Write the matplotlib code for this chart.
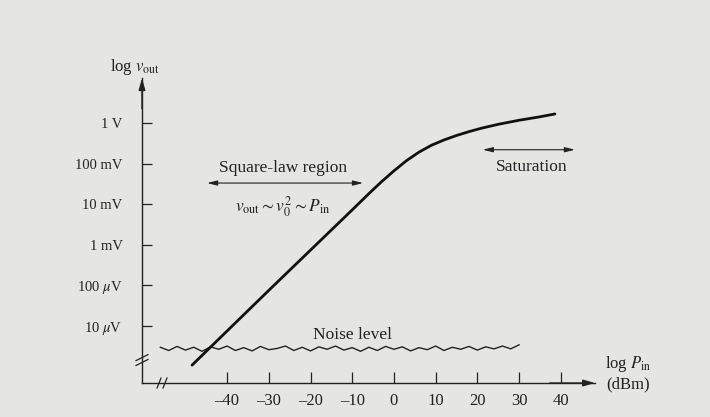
import matplotlib
matplotlib.use("Agg")
import matplotlib.pyplot as plt

# detector response: input power (dBm) vs log10 of output voltage (V)
response_dbm = [-48.4, -40, -30, -20, -10, -6, -3, 0, 3, 6, 9, 12, 15, 18, 21, 25, 30, 35, 38.6]
response_logv = [-5.96, -5.12, -4.12, -3.13, -2.14, -1.74, -1.45, -1.18, -0.93, -0.72,
                 -0.55, -0.42, -0.31, -0.215, -0.13, -0.035, 0.065, 0.15, 0.22]

# noise floor trace
noise_dbm = [-56, -54, -52, -50, -48, -46, -44, -42, -40, -38, -36, -34, -32, -30, -28,
             -26, -24, -22, -20, -18, -16, -14, -12, -10, -8, -6, -4, -2, 0, 2, 4, 6,
             8, 10, 12, 14, 16, 18, 20, 22, 24, 26, 28, 30]
noise_logv = [-5.52, -5.60, -5.50, -5.59, -5.52, -5.62, -5.51, -5.57, -5.49, -5.60,
              -5.53, -5.61, -5.50, -5.58, -5.55, -5.49, -5.60, -5.52, -5.61, -5.51,
              -5.57, -5.49, -5.59, -5.53, -5.62, -5.52, -5.60, -5.50, -5.57, -5.51,
              -5.61, -5.53, -5.58, -5.49, -5.60, -5.52, -5.57, -5.50, -5.59, -5.51,
              -5.56, -5.49, -5.56, -5.46]

x_ticks = [-40, -30, -20, -10, 0, 10, 20, 30, 40]
y_ticks = [0, -1, -2, -3, -4, -5]
y_labels = ["1 V", "100 mV", "10 mV", "1 mV", r"100 $\mu$V", r"10 $\mu$V"]

BG = "#e5e5e3"
INK = "#222222"

plt.rcParams["font.family"] = ["Liberation Serif", "DejaVu Serif"]
plt.rcParams["mathtext.fontset"] = "stix"

fig = plt.figure(figsize=(7.10, 4.17), dpi=100, facecolor=BG)
ax = fig.add_axes([0.2, 0.0815, 0.638, 0.731])
ax.set_facecolor(BG)
ax.set_xlim(-60.4, 48.2)
ax.set_ylim(-6.4, 1.1)

for side in ("top", "right"):
    ax.spines[side].set_visible(False)
for side in ("left", "bottom"):
    ax.spines[side].set_color(INK)
    ax.spines[side].set_linewidth(1.0)

ax.set_xticks(x_ticks)
ax.set_xticklabels([f"{t:d}".replace("-", "\u2013") for t in x_ticks])
ax.set_yticks(y_ticks)
ax.set_yticklabels(y_labels)
ax.tick_params(axis="y", direction="in", length=7, width=0.9, pad=14,
               labelsize=10.5, colors=INK)
ax.tick_params(axis="x", direction="in", length=8, width=0.9, pad=7,
               labelsize=12, colors=INK)

# axis arrows
ax.annotate("", xy=(0, 1.0), xytext=(0, 0.9), xycoords="axes fraction",
            arrowprops=dict(arrowstyle="-|>,head_length=0.7,head_width=0.2",
                            color=INK, lw=1.0, shrinkA=0, shrinkB=0))
ax.annotate("", xy=(1.0, 0), xytext=(0.9, 0), xycoords="axes fraction",
            arrowprops=dict(arrowstyle="-|>,head_length=0.7,head_width=0.2",
                            color=INK, lw=1.0, shrinkA=0, shrinkB=0))

# axis break marks
tr = ax.transAxes
yb = 0.0754
ax.plot([0, 0], [yb - 0.008, yb + 0.008], color=BG, lw=2.5, transform=tr, clip_on=False)
for off in (-0.008, 0.008):
    ax.plot([-0.0132, 0.0132], [yb + off - 0.0098, yb + off + 0.0098], color=INK, lw=0.9,
            transform=tr, clip_on=False)
xb = 0.0442
ax.plot([xb - 0.0066, xb + 0.0066], [0, 0], color=BG, lw=2.5, transform=tr, clip_on=False)
for off in (-0.0066, 0.0066):
    ax.plot([xb + off - 0.0044, xb + off + 0.0044], [-0.0164, 0.0164], color=INK, lw=0.9,
            transform=tr, clip_on=False)

ax.plot(noise_dbm, noise_logv, color=INK, lw=1.0)
ax.plot(response_dbm, response_logv, color="#111111", lw=2.0, solid_capstyle="round")

# annotations
ax.text(-26.6, -1.11, "Square-law region", ha="center", va="center", fontsize=12.5, color=INK)
ax.annotate("", xy=(-44.8, -1.48), xytext=(-7.4, -1.48),
            arrowprops=dict(arrowstyle="<|-|>,head_length=0.6,head_width=0.15",
                            color=INK, lw=0.8, shrinkA=0, shrinkB=0))
ax.text(-26.6, -2.07, r"$v_{\mathrm{out}} \sim v_0^2 \sim P_{\mathrm{in}}$",
        ha="center", va="center", fontsize=12.5, color=INK)
ax.text(33.1, -1.08, "Saturation", ha="center", va="center", fontsize=12.5, color=INK)
ax.annotate("", xy=(21.3, -0.66), xytext=(43.4, -0.66),
            arrowprops=dict(arrowstyle="<|-|>,head_length=0.6,head_width=0.15",
                            color=INK, lw=0.8, shrinkA=0, shrinkB=0))
ax.text(-10.0, -5.22, "Noise level", ha="center", va="center", fontsize=12.5, color=INK)

# axis titles
ax.text(-62.1, 1.38, r"log $v_{\mathrm{out}}$", ha="center", va="center",
        fontsize=12, color=INK, clip_on=False)
ax.text(50.7, -5.94, r"log $P_{\mathrm{in}}$", ha="left", va="center",
        fontsize=12, color=INK, clip_on=False)
ax.text(50.9, -6.43, "(dBm)", ha="left", va="center",
        fontsize=12, color=INK, clip_on=False)

fig.savefig("out.png", dpi=100, facecolor=BG)
